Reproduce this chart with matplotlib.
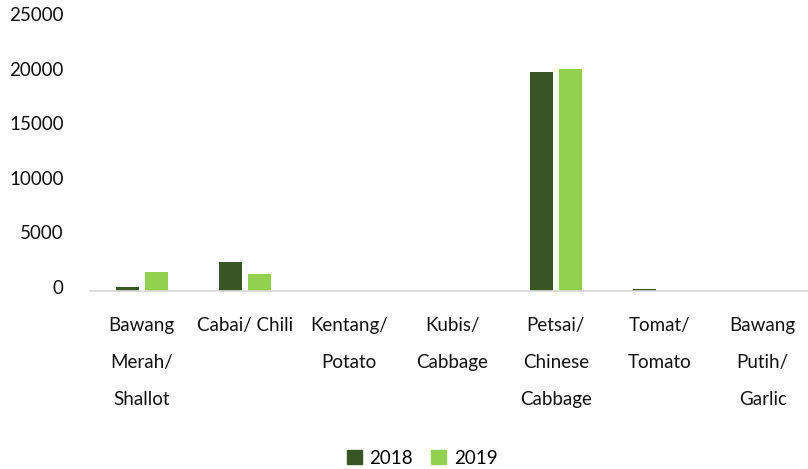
import matplotlib
matplotlib.use("Agg")
import matplotlib.pyplot as plt
import numpy as np
from matplotlib.patches import Patch
from matplotlib.transforms import ScaledTranslation

categories = [
    "Bawang\nMerah/\nShallot",
    "Cabai/ Chili",
    "Kentang/\nPotato",
    "Kubis/\nCabbage",
    "Petsai/\nChinese\nCabbage",
    "Tomat/\nTomato",
    "Bawang\nPutih/\nGarlic",
]
values_2018 = [350, 2650, 0, 0, 20100, 150, 0]
values_2019 = [1700, 1550, 0, 0, 20350, 0, 0]
y_ticks = [0, 5000, 10000, 15000, 20000, 25000]

DARK = "#375623"
LIGHT = "#92D050"

plt.rcParams["font.family"] = ["Lato", "DejaVu Sans"]

fig = plt.figure(figsize=(8.08, 4.69), dpi=100)
ax = fig.add_axes([90 / 808, 178 / 469, 724.5 / 808, 273 / 469])

x = np.arange(len(categories))
w = 0.22
off = 0.14
ax.bar(x - off, values_2018, width=w, color=DARK)
ax.bar(x + off, values_2019, width=w, color=LIGHT)

ax.set_xlim(-0.5, len(categories) - 0.5)
ax.set_ylim(0, 25000)
ax.set_yticks(y_ticks)
ax.set_yticklabels([str(v) for v in y_ticks])
ax.set_xticks(x)
ax.set_xticklabels(categories, linespacing=2.4, va="top")

for s in ["top", "right", "left"]:
    ax.spines[s].set_visible(False)
ax.spines["bottom"].set_color("#d9d9d9")
ax.spines["bottom"].set_linewidth(1.2)
ax.tick_params(axis="y", length=0, pad=19, labelsize=13.5, labelcolor="#111111")
ax.tick_params(axis="x", length=0, pad=19, labelsize=13.5, labelcolor="#111111")

# the reference draws the value labels a few pixels above their values
shift = ScaledTranslation(0, 4 / 100, fig.dpi_scale_trans)
for lab in ax.get_yticklabels():
    lab.set_transform(lab.get_transform() + shift)

handles = [Patch(color=DARK, label="2018"), Patch(color=LIGHT, label="2019")]
fig.legend(handles=handles, loc="center", bbox_to_anchor=(422 / 808, 1 - 458 / 469),
           ncol=2, frameon=False, fontsize=13.5, handlelength=0.8, handleheight=0.8,
           handletextpad=0.4, columnspacing=1.0)

fig.savefig("out.png", dpi=100)
